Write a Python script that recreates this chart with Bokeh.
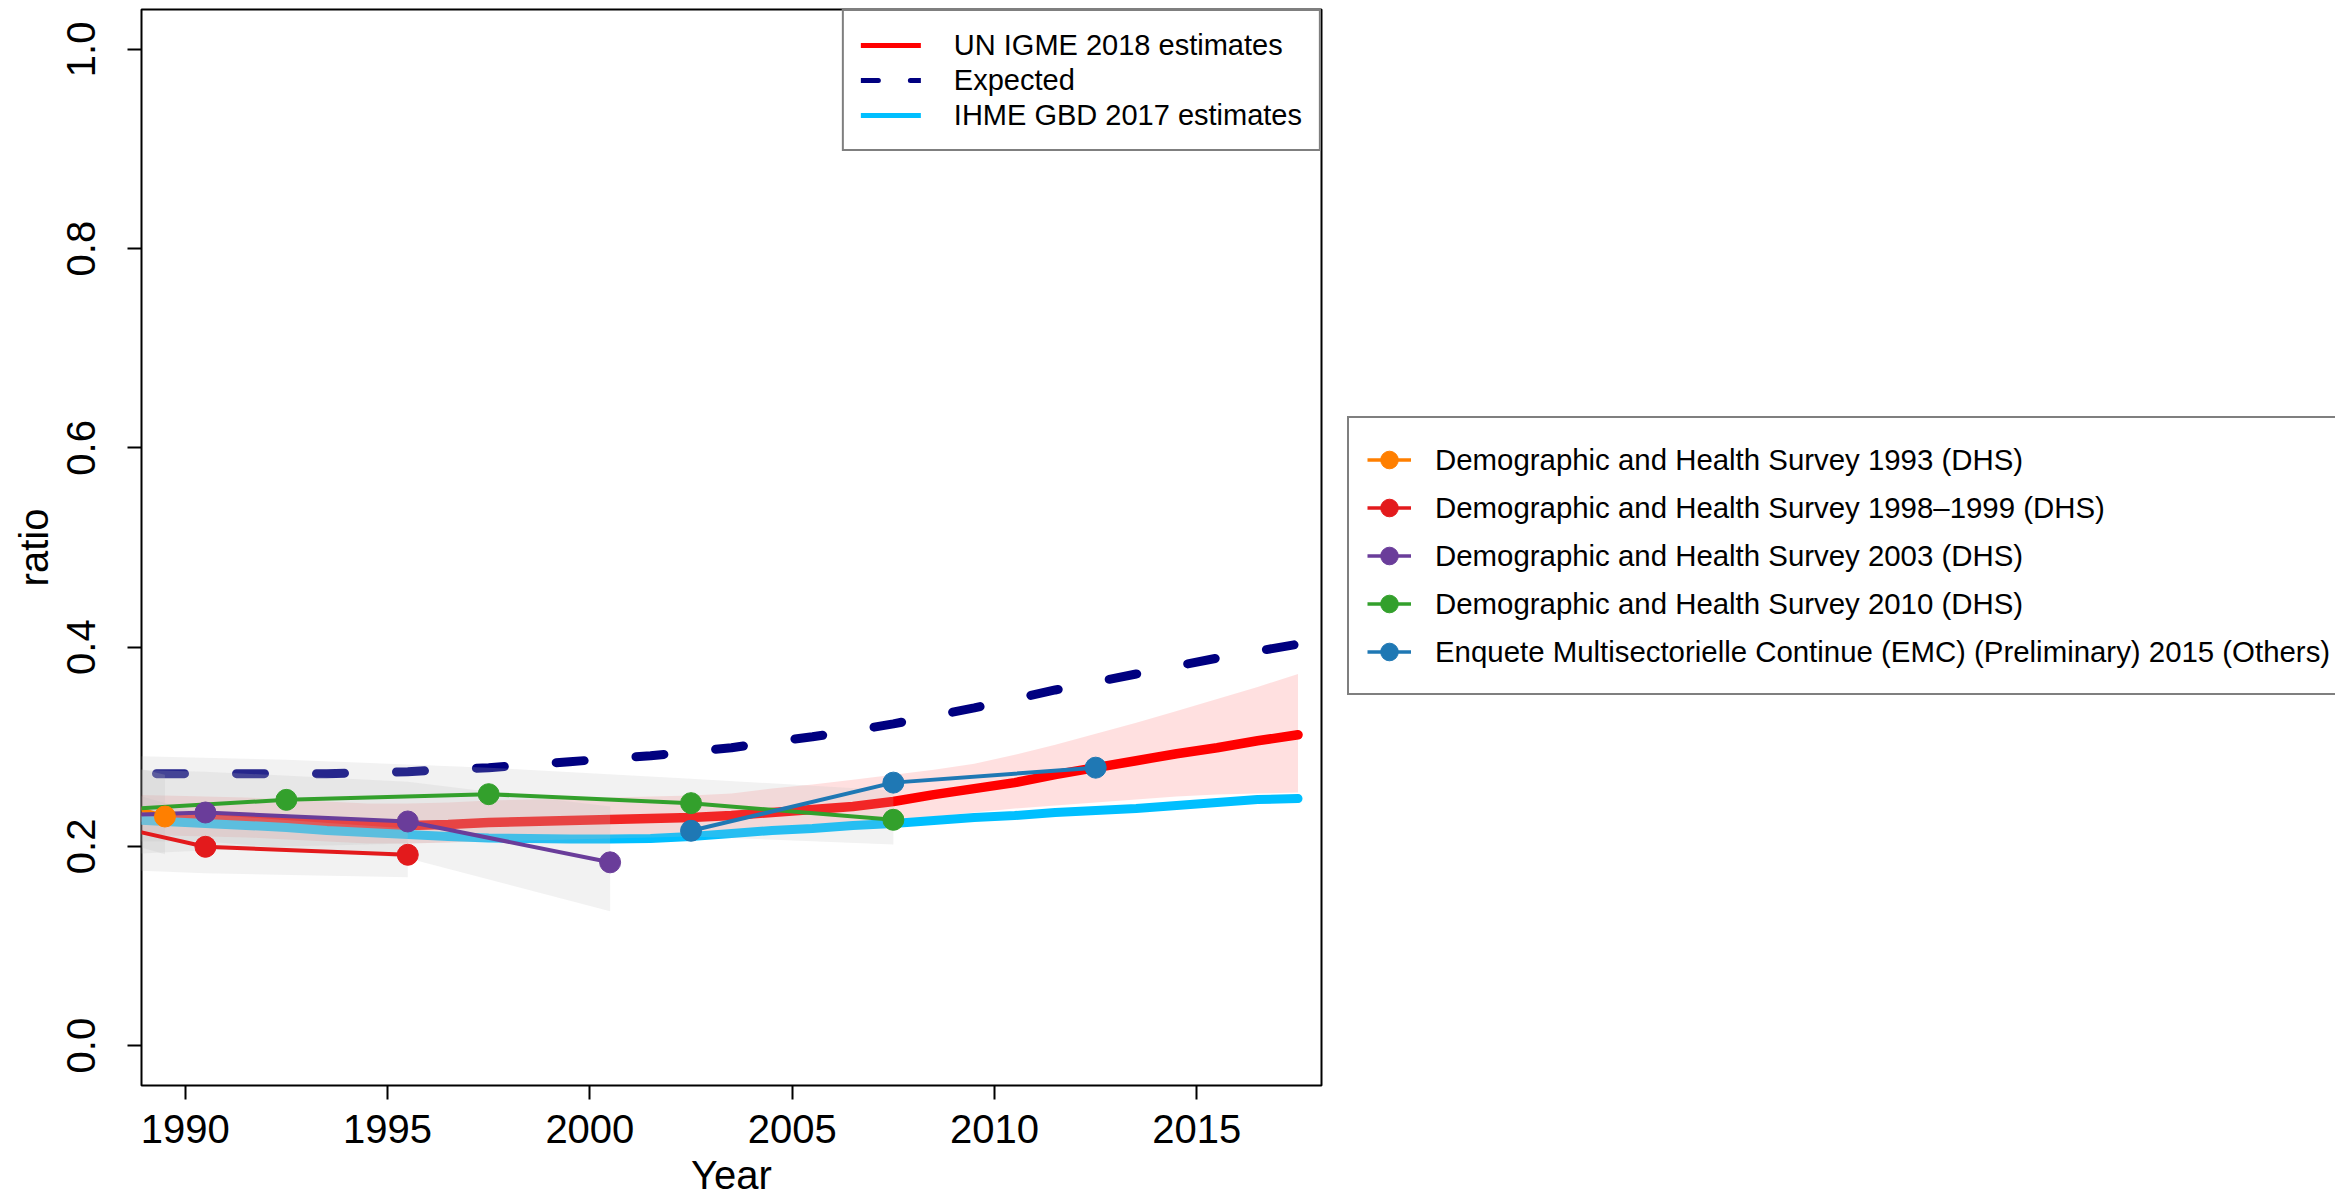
from bokeh.plotting import figure
from bokeh.layouts import row
from bokeh.models import Range1d, FixedTicker, Legend, LegendItem, PrintfTickFormatter
from bokeh.embed import file_html
from bokeh.resources import INLINE

FONT = "Liberation Sans"
NAN = float("nan")

# ---------------- data ----------------
years = [1988.5, 1989.5, 1990.5, 1991.5, 1992.5, 1993.5, 1994.5, 1995.5, 1996.5, 1997.5,
         1998.5, 1999.5, 2000.5, 2001.5, 2002.5, 2003.5, 2004.5, 2005.5, 2006.5, 2007.5,
         2008.5, 2009.5, 2010.5, 2011.5, 2012.5, 2013.5, 2014.5, 2015.5, 2016.5, 2017.5]

expected = [0.273, 0.273, 0.273, 0.273, 0.273, 0.273, 0.274, 0.275, 0.277, 0.279,
            0.282, 0.285, 0.288, 0.291, 0.295, 0.299, 0.305, 0.310, 0.316, 0.323,
            0.331, 0.339, 0.348, 0.357, 0.365, 0.373, 0.381, 0.389, 0.396, 0.403]

igme = [0.230, 0.229, 0.228, 0.227, 0.225, 0.223, 0.221, 0.221, 0.222, 0.224,
        0.225, 0.226, 0.227, 0.228, 0.229, 0.231, 0.234, 0.237, 0.240, 0.245,
        0.252, 0.258, 0.264, 0.272, 0.279, 0.286, 0.293, 0.299, 0.306, 0.312]

igme_upper = [0.252, 0.251, 0.250, 0.249, 0.247, 0.245, 0.243, 0.243, 0.244, 0.246,
              0.247, 0.248, 0.249, 0.250, 0.251, 0.253, 0.258, 0.262, 0.267, 0.272,
              0.277, 0.283, 0.292, 0.302, 0.313, 0.324, 0.336, 0.348, 0.360, 0.373]

igme_lower = [0.212, 0.211, 0.210, 0.209, 0.207, 0.205, 0.203, 0.203, 0.204, 0.206,
              0.207, 0.208, 0.209, 0.210, 0.211, 0.213, 0.216, 0.218, 0.221, 0.225,
              0.230, 0.234, 0.238, 0.241, 0.244, 0.247, 0.250, 0.252, 0.253, 0.254]

ihme = [0.227, 0.225, 0.223, 0.221, 0.219, 0.216, 0.214, 0.212, 0.210, 0.2085,
        0.208, 0.2075, 0.2075, 0.208, 0.210, 0.213, 0.216, 0.218, 0.221, 0.223,
        0.226, 0.229, 0.231, 0.234, 0.236, 0.238, 0.241, 0.244, 0.247, 0.248]

# surveys
dhs1993_x = [1984.5, 1989.5]
dhs1993_y = [0.291, 0.230]
dhs1993_lo = [0.250, 0.192]
dhs1993_hi = [0.320, 0.272]

dhs1998_x = [1985.5, 1990.5, 1995.5]
dhs1998_y = [0.2455, 0.1996, 0.1916]
dhs1998_lo = [0.181, 0.173, 0.169]
dhs1998_hi = [0.290, 0.232, 0.218]

dhs2003_x = [1985.5, 1990.5, 1995.5, 2000.5]
dhs2003_y = [0.228, 0.234, 0.225, 0.184]
dhs2003_lo = [0.205, 0.205, 0.188, 0.135]
dhs2003_hi = [0.280, 0.275, 0.265, 0.240]

dhs2010_x = [1987.5, 1992.5, 1997.5, 2002.5, 2007.5]
dhs2010_y = [0.235, 0.2467, 0.2524, 0.2434, 0.2267]
dhs2010_lo = [0.190, 0.200, 0.205, 0.210, 0.202]
dhs2010_hi = [0.292, 0.287, 0.279, 0.268, 0.256]

emc_x = [2002.5, 2007.5, 2012.5]
emc_y = [0.2157, 0.264, 0.279]

x_ticks = [1990, 1995, 2000, 2005, 2010, 2015]
y_ticks = [0.0, 0.2, 0.4, 0.6, 0.8, 1.0]

survey_labels = ["Demographic and Health Survey 1993 (DHS)",
                 "Demographic and Health Survey 1998\u20131999 (DHS)",
                 "Demographic and Health Survey 2003 (DHS)",
                 "Demographic and Health Survey 2010 (DHS)",
                 "Enquete Multisectorielle Continue (EMC) (Preliminary) 2015 (Others)"]
survey_colors = ["#FF7F00", "#E31A1C", "#6A3D9A", "#33A02C", "#1F78B4"]

# ---------------- main figure ----------------
p = figure(width=1346, height=1201, output_backend="svg", toolbar_location=None,
           x_range=Range1d(1988.92, 2018.08), y_range=Range1d(-0.04, 1.04),
           min_border_left=141, min_border_right=25, min_border_top=9, min_border_bottom=116)
p.grid.visible = False
p.outline_line_color = "black"
p.outline_line_width = 2
p.background_fill_color = "white"
p.border_fill_color = "white"

for ax in (p.xaxis[0], p.yaxis[0]):
    ax.axis_line_color = None
    ax.major_tick_line_color = "black"
    ax.major_tick_line_width = 2
    ax.major_tick_out = 14
    ax.major_tick_in = 0
    ax.minor_tick_line_color = None
    ax.major_label_text_font = FONT
    ax.major_label_text_font_size = "40px"
    ax.major_label_text_color = "black"
    ax.axis_label_text_font = FONT
    ax.axis_label_text_font_size = "40px"
    ax.axis_label_text_font_style = "normal"
    ax.axis_label_text_color = "black"

p.xaxis[0].ticker = FixedTicker(ticks=x_ticks)
p.xaxis[0].axis_label = "Year"
p.xaxis[0].major_label_standoff = 15
p.xaxis[0].axis_label_standoff = 7

p.yaxis[0].ticker = FixedTicker(ticks=y_ticks)
p.yaxis[0].formatter = PrintfTickFormatter(format="%.1f")
p.yaxis[0].major_label_orientation = "vertical"
p.yaxis[0].axis_label = "ratio"
p.yaxis[0].major_label_standoff = 32
p.yaxis[0].axis_label_standoff = 9

# IGME uncertainty band
p.varea(x=years, y1=igme_lower, y2=igme_upper, fill_color="#FF0000", fill_alpha=0.12)

# expected, IGME, IHME lines
p.line(years, expected, line_color="#000080", line_width=9, line_dash="28 52",
       line_dash_offset=48, line_cap="round")
p.line(years, igme, line_color="#FF0000", line_width=9.5, line_cap="round", line_join="round")
p.line(years, ihme, line_color="#00BFFF", line_width=9, line_cap="round", line_join="round")

# survey uncertainty bands
for xs, lo, hi in [(dhs1993_x, dhs1993_lo, dhs1993_hi), (dhs1998_x, dhs1998_lo, dhs1998_hi),
                   (dhs2003_x, dhs2003_lo, dhs2003_hi), (dhs2010_x, dhs2010_lo, dhs2010_hi)]:
    p.varea(x=xs, y1=lo, y2=hi, fill_color="#BEBEBE", fill_alpha=0.2)

# survey lines, then points
survey_x = [dhs1993_x, dhs1998_x, dhs2003_x, dhs2010_x, emc_x]
survey_y = [dhs1993_y, dhs1998_y, dhs2003_y, dhs2010_y, emc_y]
for xs, ys, col in zip(survey_x, survey_y, survey_colors):
    p.line(xs, ys, line_color=col, line_width=4, line_cap="round", line_join="round")
for xs, ys, col in zip(survey_x, survey_y, survey_colors):
    p.scatter(xs, ys, marker="circle", size=21, fill_color=col, line_color=col)

# legend-only renderers for the estimates legend (no visible data)
l1 = p.line(x=[NAN, NAN], y=[NAN, NAN], line_color="#FF0000", line_width=5, line_cap="round")
l2 = p.line(x=[NAN, NAN], y=[NAN, NAN], line_color="#000080", line_width=5,
            line_dash="17 32", line_cap="round")
l3 = p.line(x=[NAN, NAN], y=[NAN, NAN], line_color="#00BFFF", line_width=5, line_cap="round")

legend1 = Legend(items=[LegendItem(label="UN IGME 2018 estimates", renderers=[l1]),
                        LegendItem(label="Expected", renderers=[l2]),
                        LegendItem(label="IHME GBD 2017 estimates", renderers=[l3])],
                 location="top_right", margin=0, padding=17, spacing=1,
                 glyph_width=60, glyph_height=34, label_height=34, label_standoff=33,
                 label_text_font=FONT, label_text_font_size="29px", label_text_color="black",
                 border_line_color="black", border_line_width=2,
                 background_fill_color="white", background_fill_alpha=1)
p.add_layout(legend1)

# ---------------- side panel holding the survey legend ----------------
p2 = figure(width=989, height=1201, output_backend="svg", toolbar_location=None,
            x_range=Range1d(0, 1), y_range=Range1d(0, 1),
            x_axis_location=None, y_axis_location=None, min_border=0)
p2.grid.visible = False
p2.outline_line_color = None
p2.background_fill_color = "white"
p2.border_fill_color = "white"

survey_items = []
for col, lab in zip(survey_colors, survey_labels):
    rl = p2.line(x=[NAN, NAN], y=[NAN, NAN], line_color=col, line_width=3.5)
    rs = p2.scatter(x=[NAN], y=[NAN], marker="circle", size=21, fill_color=col, line_color=col)
    survey_items.append(LegendItem(label=lab, renderers=[rl, rs]))

legend2 = Legend(items=survey_items, location=(1, 390), margin=0, padding=18, spacing=1,
                 glyph_width=44, glyph_height=47, label_height=47, label_standoff=24,
                 label_text_font=FONT, label_text_font_size="29.4px", label_text_color="black",
                 border_line_color="black", border_line_width=2,
                 background_fill_color="white", background_fill_alpha=1)
p2.add_layout(legend2)

layout = row(p, p2, spacing=0)
open("out.html", "w").write(file_html(layout, INLINE))
